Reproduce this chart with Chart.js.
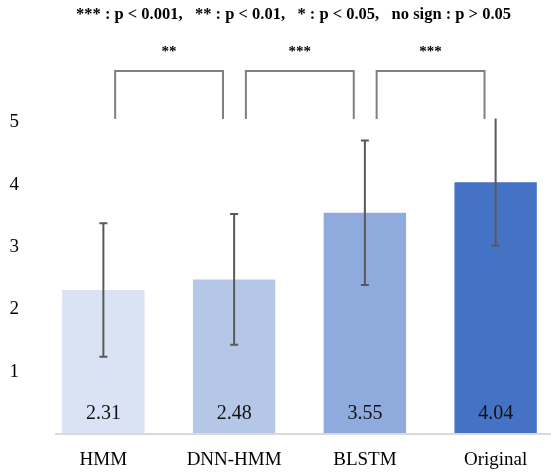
<!DOCTYPE html>
<html>
<head>
<meta charset="utf-8">
<script src="https://cdn.jsdelivr.net/npm/chart.js@4.4.1/dist/chart.umd.min.js"></script>
<style>
  html, body { margin: 0; padding: 0; background: #fff; overflow: hidden; }
  #wrap { width: 551px; height: 475px; overflow: hidden; }
</style>
</head>
<body>
<div id="wrap"><canvas id="chart" width="561" height="475"></canvas></div>
<script>
// ── Data ──
const categories = ['HMM', 'DNN-HMM', 'BLSTM', 'Original'];
const means = [2.31, 2.48, 3.55, 4.04];
const errors = [1.07, 1.05, 1.16, 1.02];
const yTicks = [1, 2, 3, 4, 5];
const comparisons = [[0, 1], [1, 2], [2, 3]];
const sigLabels = ['**', '***', '***'];
const legendText = '*** : p < 0.001,   ** : p < 0.01,   * : p < 0.05,   no sign : p > 0.05';

const barColors = ['#dae3f3', '#b4c7e7', '#8faadc', '#4472c4'];
const SERIF = '"Liberation Serif", "DejaVu Serif", serif';

// ── Extras: error bars, values, brackets, legend text ──
const extras = {
    id: 'extras',
    afterDatasetsDraw(chart) {
        const ctx = chart.ctx;
        const x = chart.scales.x, y = chart.scales.y;
        const area = chart.chartArea;
        const cat = x.getPixelForValue(1) - x.getPixelForValue(0);

        ctx.save();
        // baseline
        ctx.strokeStyle = '#d9d9d9';
        ctx.lineWidth = 2;
        ctx.beginPath();
        ctx.moveTo(55, y.getPixelForValue(0));
        ctx.lineTo(chart.width, y.getPixelForValue(0));
        ctx.stroke();

        // error bars
        ctx.strokeStyle = '#595959';
        ctx.lineWidth = 2;
        means.forEach((m, i) => {
            const cx = x.getPixelForValue(i);
            const top = y.getPixelForValue(m + errors[i]);
            const bot = y.getPixelForValue(m - errors[i]);
            ctx.beginPath();
            ctx.moveTo(cx, top); ctx.lineTo(cx, bot);
            ctx.moveTo(cx - 4, bot); ctx.lineTo(cx + 4, bot);
            if (i < means.length - 1) { ctx.moveTo(cx - 4, top); ctx.lineTo(cx + 4, top); }
            ctx.stroke();
        });

        // value labels inside bars
        ctx.fillStyle = '#111';
        ctx.font = '20px ' + SERIF;
        ctx.textAlign = 'center';
        ctx.textBaseline = 'middle';
        means.forEach((m, i) => {
            ctx.fillText(m.toFixed(2), x.getPixelForValue(i), area.bottom - 20);
        });

        // significance brackets
        ctx.strokeStyle = '#808080';
        ctx.lineWidth = 2;
        const bTop = 71, bBot = 119;
        comparisons.forEach(([a, b], k) => {
            const x1 = x.getPixelForValue(a) + cat * 0.09;
            const x2 = x.getPixelForValue(b) - cat * 0.085;
            ctx.beginPath();
            ctx.moveTo(x1, bBot); ctx.lineTo(x1, bTop);
            ctx.lineTo(x2, bTop); ctx.lineTo(x2, bBot);
            ctx.stroke();
            ctx.fillStyle = '#000';
            ctx.font = 'bold 15px ' + SERIF;
            ctx.fillText(sigLabels[k], (x1 + x2) / 2, 52);
        });

        // p-value key
        ctx.font = 'bold 16.5px ' + SERIF;
        ctx.textAlign = 'left';
        ctx.fillText(legendText, 76, 15);
        ctx.restore();
    }
};

new Chart(document.getElementById('chart'), {
    type: 'bar',
    data: {
        labels: categories,
        datasets: [{
            data: means,
            backgroundColor: barColors,
            borderWidth: 0,
            categoryPercentage: 1,
            barPercentage: 0.63
        }]
    },
    options: {
        responsive: false,
        animation: false,
        layout: { padding: { top: 60, right: 0, left: 0, bottom: 0 } },
        plugins: { legend: { display: false }, tooltip: { enabled: false } },
        scales: {
            x: {
                grid: { display: false, drawTicks: false },
                border: { display: false },
                ticks: { color: '#000', font: { family: SERIF, size: 19 }, padding: 15 },
                afterFit: s => { s.height = 41; }
            },
            y: {
                min: 0, max: 6,
                grid: { display: false, drawTicks: false },
                border: { display: false },
                afterBuildTicks: s => { s.ticks = yTicks.map(v => ({ value: v })); },
                ticks: { color: '#000', font: { family: SERIF, size: 19 }, padding: 19 },
                afterFit: s => { s.width = 38; }
            }
        }
    },
    plugins: [extras]
});
</script>
</body>
</html>
